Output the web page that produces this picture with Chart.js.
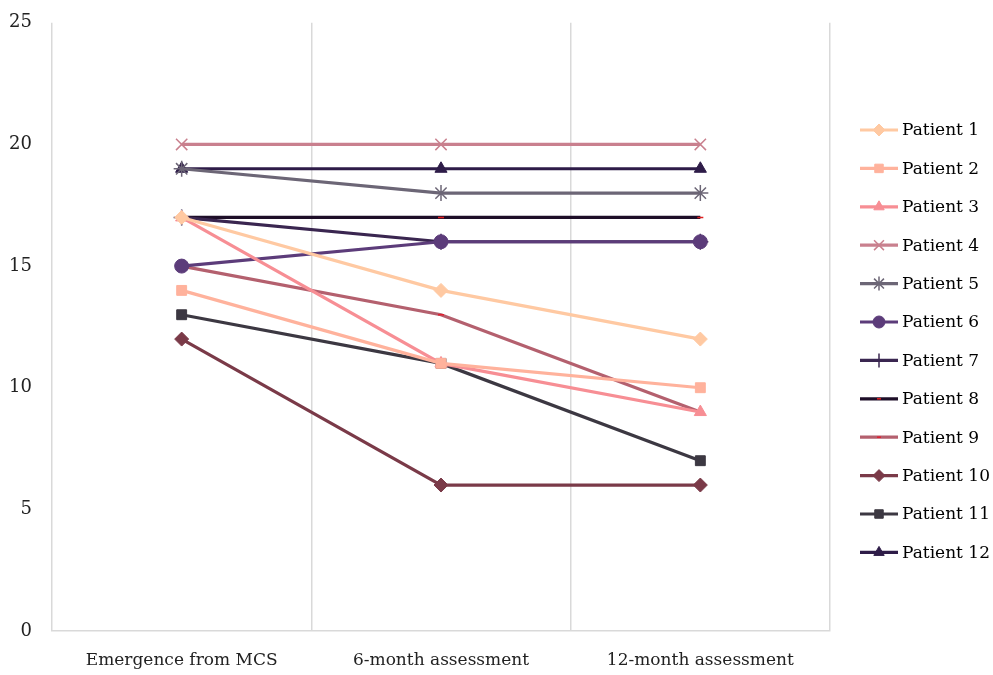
<!DOCTYPE html>
<html>
<head>
<meta charset="utf-8">
<script src="https://cdn.jsdelivr.net/npm/chart.js@4/dist/chart.umd.min.js"></script>
<style>
  html, body { margin: 0; padding: 0; background: #ffffff; }
  #wrap { width: 993px; height: 675px; position: relative; }
</style>
</head>
<body>
<div id="wrap"><canvas id="c" width="993" height="675"></canvas></div>
<script>
// Assessment time points
const categories = ["Emergence from MCS", "6-month assessment", "12-month assessment"];

// Scores per patient
const patient1  = [17, 14, 12];
const patient2  = [14, 11, 10];
const patient3  = [17, 11, 9];
const patient4  = [20, 20, 20];
const patient5  = [19, 18, 18];
const patient6  = [15, 16, 16];
const patient7  = [17, 16, 16];
const patient8  = [17, 17, 17];
const patient9  = [15, 13, 9];
const patient10 = [12, 6, 6];
const patient11 = [13, 11, 7];
const patient12 = [19, 19, 19];

const yTicks = [0, 5, 10, 15, 20, 25];

const FONT = "'DejaVu Serif', 'Liberation Serif', serif";

function series(label, data, color, style, radius, pointColor) {
  return {
    label: label,
    data: data,
    borderColor: color,
    backgroundColor: pointColor || color,
    pointBackgroundColor: pointColor || color,
    pointBorderColor: pointColor || color,
    pointStyle: style,
    pointRadius: radius,
    pointHoverRadius: radius,
    pointBorderWidth: (style === 'crossRot' || style === 'star' || style === 'cross' || style === 'line') ? 1.5 : 1,
    borderWidth: 3.2,
    tension: 0,
    fill: false
  };
}

const datasets = [
  series("Patient 1",  patient1,  "#FFC9A2", "rectRot", 7),
  series("Patient 2",  patient2,  "#FFB29C", "rect", 7),
  series("Patient 3",  patient3,  "#F78E94", "triangle", 7),
  series("Patient 4",  patient4,  "#C9808E", "crossRot", 8),
  series("Patient 5",  patient5,  "#6C6676", "star", 8),
  series("Patient 6",  patient6,  "#5C3C7A", "circle", 7),
  series("Patient 7",  patient7,  "#3A2650", "cross", 8),
  series("Patient 8",  patient8,  "#1E0E28", "line", 3, "#E02020"),
  series("Patient 9",  patient9,  "#B4606E", "line", 3, "#E02030"),
  series("Patient 10", patient10, "#7A3A48", "rectRot", 7),
  series("Patient 11", patient11, "#3C3842", "rect", 7),
  series("Patient 12", patient12, "#2E1C48", "triangle", 7)
];

// Legend on the right: line sample with marker, then label
const sideLegend = {
  id: 'sideLegend',
  afterDraw(chart) {
    const ctx = chart.ctx;
    const x0 = 860, x1 = 898, top = 130, step = 38.4;
    ctx.save();
    chart.data.datasets.forEach((ds, i) => {
      const y = top + i * step;
      ctx.strokeStyle = ds.borderColor;
      ctx.lineWidth = 3.2;
      ctx.beginPath();
      ctx.moveTo(x0, y);
      ctx.lineTo(x1, y);
      ctx.stroke();
      ctx.fillStyle = ds.pointBackgroundColor;
      ctx.strokeStyle = ds.pointBorderColor;
      ctx.lineWidth = ds.pointBorderWidth;
      Chart.helpers.drawPoint(ctx, {
        pointStyle: ds.pointStyle,
        radius: ds.pointRadius - 1,
        borderWidth: ds.pointBorderWidth,
        rotation: 0
      }, (x0 + x1) / 2, y);
      ctx.fillStyle = '#000000';
      ctx.font = "17px " + FONT;
      ctx.textAlign = 'left';
      ctx.textBaseline = 'middle';
      ctx.fillText(ds.label, 902, y + 1);
    });
    ctx.restore();
  }
};

new Chart(document.getElementById('c'), {
  type: 'line',
  data: { labels: categories, datasets: datasets },
  options: {
    responsive: false,
    animation: false,
    layout: { padding: { left: 0, right: 163, top: 3, bottom: 0 } },
    plugins: {
      legend: { display: false },
      tooltip: { enabled: false }
    },
    scales: {
      x: {
        offset: true,
        grid: { display: true, offset: true, color: '#D9D9D9', lineWidth: 1.5, drawTicks: false },
        border: { display: true, color: '#D9D9D9', width: 1.5 },
        ticks: { color: '#222222', font: { family: FONT, size: 17 }, padding: 19, maxRotation: 0 },
        afterFit(scale) { scale.height = 44; }
      },
      y: {
        min: 0, max: 25,
        afterBuildTicks(scale) { scale.ticks = yTicks.map(v => ({ value: v })); },
        grid: { display: false },
        border: { display: false },
        ticks: { color: '#222222', font: { family: FONT, size: 18 }, padding: 12 },
        afterFit(scale) { scale.width = 52; }
      }
    }
  },
  plugins: [sideLegend]
});
</script>
</body>
</html>
